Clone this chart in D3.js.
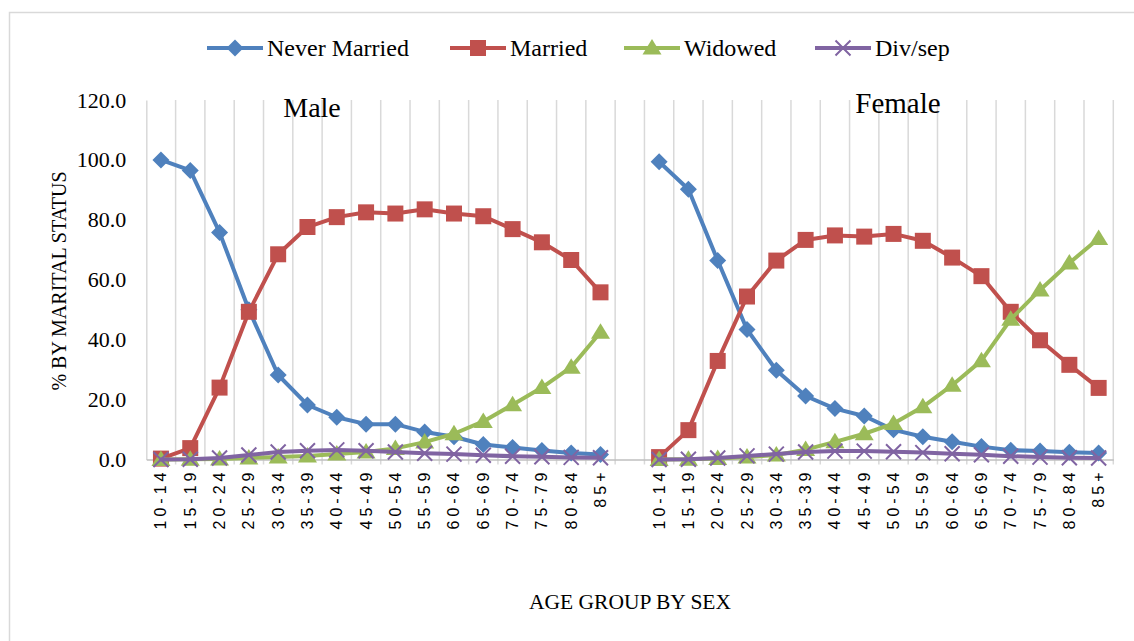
<!DOCTYPE html>
<html>
<head>
<meta charset="utf-8">
<script src="https://cdn.jsdelivr.net/npm/d3@7"></script>
<style>
  html, body { margin: 0; padding: 0; background: #fff; }
  svg { display: block; }
</style>
</head>
<body>
<svg id="chart" width="1134" height="641"></svg>
<script>
// Age groups shown for each sex
const ageGroups = ["10-14","15-19","20-24","25-29","30-34","35-39","40-44","45-49",
                   "50-54","55-59","60-64","65-69","70-74","75-79","80-84","85+"];
const sexes = ["Male", "Female"];
const yTicks = [0, 20, 40, 60, 80, 100, 120];

// Percent by marital status, male
const maleNeverMarried = [100.0, 96.5, 75.8, 50.0, 28.2, 18.2, 14.1, 11.8, 11.8, 9.2, 7.6, 5.0, 4.0, 3.0, 2.2, 1.7];
const maleMarried      = [0.3, 3.8, 24.0, 49.3, 68.5, 77.6, 80.9, 82.5, 82.1, 83.5, 82.1, 81.2, 76.9, 72.5, 66.6, 55.8];
const maleWidowed      = [0.0, 0.1, 0.2, 0.5, 0.8, 1.2, 1.8, 2.5, 3.7, 5.8, 8.6, 12.7, 18.3, 24.0, 30.8, 42.5];
const maleDivSep       = [0.0, 0.1, 0.5, 1.5, 2.5, 2.9, 3.2, 2.9, 2.5, 2.1, 1.8, 1.4, 1.1, 0.9, 0.7, 0.6];

// Percent by marital status, female
const femaleNeverMarried = [99.4, 90.2, 66.4, 43.4, 29.8, 21.2, 17.0, 14.5, 9.9, 7.6, 5.9, 4.3, 3.1, 2.8, 2.4, 2.2];
const femaleMarried      = [0.8, 9.8, 32.9, 54.4, 66.4, 73.3, 74.8, 74.4, 75.3, 73.0, 67.4, 61.2, 49.3, 39.8, 31.6, 23.9];
const femaleWidowed      = [0.0, 0.1, 0.3, 0.8, 1.5, 3.3, 5.9, 8.6, 12.0, 17.6, 24.8, 33.0, 46.8, 56.6, 65.6, 73.8];
const femaleDivSep       = [0.0, 0.1, 0.5, 1.2, 1.8, 2.5, 2.8, 2.8, 2.6, 2.3, 1.9, 1.6, 1.1, 0.8, 0.6, 0.5];

const seriesNames = ["Never Married", "Married", "Widowed", "Div/sep"];
const colors = ["#4f81bd", "#c0504d", "#9bbb59", "#8064a2"];
const markerShapes = ["diamond", "square", "triangle", "x"];

const valuesBySex = {
  Male:   [maleNeverMarried, maleMarried, maleWidowed, maleDivSep],
  Female: [femaleNeverMarried, femaleMarried, femaleWidowed, femaleDivSep]
};

// One shared category axis: male groups, an empty slot, female groups
const gapKey = "gap";
const keys = [
  ...ageGroups.map(a => "Male|" + a),
  gapKey,
  ...ageGroups.map(a => "Female|" + a)
];

const svg = d3.select("#chart");
const serif = "'Liberation Serif', 'Times New Roman', serif";
const sans = "'Liberation Sans', Arial, sans-serif";

// outer chart frame
svg.append("rect")
  .attr("x", 9.5).attr("y", 12.5)
  .attr("width", 1140).attr("height", 640)
  .attr("fill", "none").attr("stroke", "#d9d9d9").attr("stroke-width", 1.5);

const plot = { left: 146.3, right: 1113.3, top: 100, bottom: 459.5 };

const x = d3.scaleBand().domain(keys).range([plot.left, plot.right]).padding(0);
const y = d3.scaleLinear().domain([0, 120]).range([plot.bottom, plot.top]);
const cx = k => x(k) + x.bandwidth() / 2;

// vertical gridlines on category boundaries
const boundaries = keys.map(k => x(k)).concat([plot.right]).slice(1);
svg.append("g").selectAll("line").data(boundaries).join("line")
  .attr("x1", d => d).attr("x2", d => d)
  .attr("y1", y(120)).attr("y2", plot.bottom + 5)
  .attr("stroke", "#d9d9d9").attr("stroke-width", 1.5);

// y axis
const yAxis = svg.append("g")
  .attr("transform", `translate(${plot.left},0)`)
  .call(d3.axisLeft(y).tickValues(yTicks).tickSize(0).tickPadding(20).tickFormat(d3.format(".1f")));
yAxis.select(".domain").attr("stroke", "#d9d9d9").attr("stroke-width", 1.5);
yAxis.selectAll("text")
  .attr("font-family", serif).attr("font-size", 22).attr("fill", "#000");

// x axis
const xAxis = svg.append("g")
  .attr("transform", `translate(0,${plot.bottom})`)
  .call(d3.axisBottom(x).tickSize(0).tickFormat(k => k === gapKey ? "" : k.split("|")[1]));
xAxis.select(".domain").attr("stroke", "#bfbfbf").attr("stroke-width", 1.5);
xAxis.selectAll("text")
  .attr("font-family", sans).attr("font-size", 16).attr("fill", "#000")
  .attr("letter-spacing", "4px")
  .attr("text-anchor", "end")
  .attr("dominant-baseline", "central")
  .attr("transform", "translate(0,9) rotate(-90)")
  .attr("x", 0).attr("y", 0).attr("dy", null);

// marker shapes
function markerPath(shape) {
  switch (shape) {
    case "diamond":  return "M0,-8.5L8.5,0L0,8.5L-8.5,0Z";
    case "square":   return "M-8,-8H8V8H-8Z";
    case "triangle": return "M0,-9L9.5,6.5L-9.5,6.5Z";
    default:         return "M-7.5,-7.5L7.5,7.5M-7.5,7.5L7.5,-7.5";
  }
}
function drawMarker(g, shape, color, px, py) {
  const p = g.append("path").attr("d", markerPath(shape))
    .attr("transform", `translate(${px},${py})`);
  if (shape === "x") p.attr("fill", "none").attr("stroke", color).attr("stroke-width", 2);
  else p.attr("fill", color);
}

const line = d3.line().x(d => cx(d.key)).y(d => y(d.v));

// series drawn in order, line then markers for each sex
seriesNames.forEach((name, si) => {
  const g = svg.append("g");
  sexes.forEach(sex => {
    const pts = ageGroups.map((a, i) => ({ key: sex + "|" + a, v: valuesBySex[sex][si][i] }));
    g.append("path").datum(pts).attr("d", line)
      .attr("fill", "none").attr("stroke", colors[si]).attr("stroke-width", 4)
      .attr("stroke-linejoin", "round").attr("stroke-linecap", "round");
    pts.forEach(p => drawMarker(g, markerShapes[si], colors[si], cx(p.key), y(p.v)));
  });
});

// sex labels inside the plot
svg.append("text").attr("x", 312).attr("y", 117).attr("text-anchor", "middle")
  .attr("font-family", serif).attr("font-size", 28).text(sexes[0]);
svg.append("text").attr("x", 898).attr("y", 113).attr("text-anchor", "middle")
  .attr("font-family", serif).attr("font-size", 29).text(sexes[1]);

// legend
const legendX = [207, 450, 624, 815];
seriesNames.forEach((name, si) => {
  const g = svg.append("g").attr("transform", `translate(${legendX[si]},48)`);
  g.append("line").attr("x1", 0).attr("x2", 56).attr("y1", 0).attr("y2", 0)
    .attr("stroke", colors[si]).attr("stroke-width", 4);
  drawMarker(g, markerShapes[si], colors[si], 28, 0);
  g.append("text").attr("x", 60).attr("y", 0).attr("dy", "0.35em")
    .attr("font-family", serif).attr("font-size", 24).text(name);
});

// axis titles
svg.append("text")
  .attr("transform", "translate(66,281) rotate(-90)")
  .attr("text-anchor", "middle")
  .attr("font-family", serif).attr("font-size", 20)
  .text("% BY MARITAL STATUS");
svg.append("text")
  .attr("x", 630).attr("y", 609).attr("text-anchor", "middle")
  .attr("font-family", serif).attr("font-size", 21.5)
  .text("AGE GROUP BY SEX");
</script>
</body>
</html>
